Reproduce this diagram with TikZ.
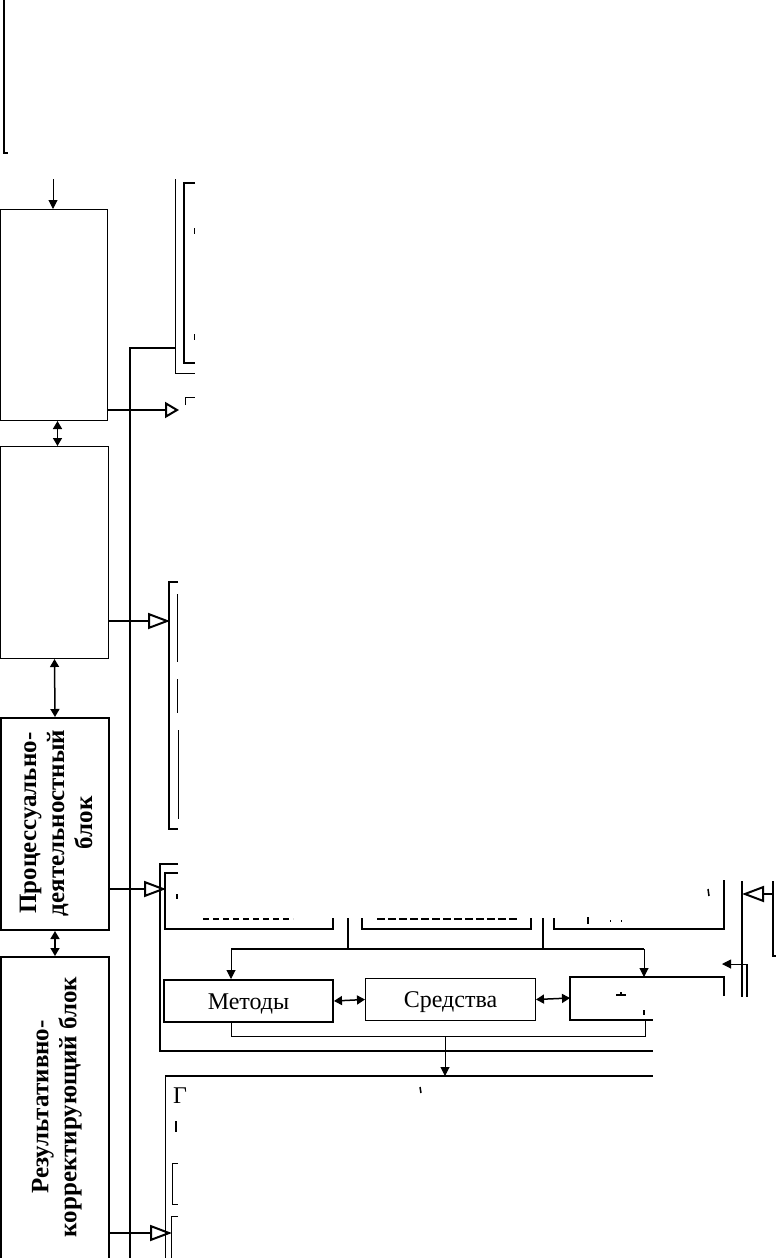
\documentclass[tikz,border=0pt]{standalone}
\usepackage{fontspec}
\setmainfont{Liberation Serif}
\usetikzlibrary{arrows.meta}
\tikzset{
  thinbox/.style={draw, line width=1pt, inner sep=0pt, anchor=north west},
  thickbox/.style={draw, line width=2pt, inner sep=0pt, anchor=north west},
  blocktext/.style={rotate=90, align=center, font=\fontsize{25}{28}\selectfont\bfseries},
  boxtext/.style={font=\fontsize{24}{28}\selectfont, text height=19pt, text depth=3pt},
  dbl/.style={{Triangle[length=8pt,width=9pt]}-{Triangle[length=8pt,width=9pt]}, line width=1.5pt},
  down/.style={-{Triangle[length=9pt,width=9pt]}, line width=1pt},
  openarr/.style={-{Triangle[open,length=22pt,width=16pt]}, line width=2pt},
  openarrs/.style={-{Triangle[open,length=14pt,width=16pt]}, line width=2pt},
  bus/.style={line width=2pt},
  frag/.style={line width=1.5pt},
}
\begin{document}
\begin{tikzpicture}[x=1pt,y=-1pt]
\useasboundingbox (0,0) rectangle (777,1258);

% top-left partial frame
\draw[bus] (4,0) -- (4,153) -- (8,153);

% left column of blocks
\node[thinbox, minimum width=107pt, minimum height=211pt] (b1) at (0,209) {};
\node[thinbox, minimum width=108pt, minimum height=212pt] (b2) at (0,446) {};
\node[thickbox, minimum width=108pt, minimum height=212pt] (b3) at (0,717) {};
\node[thickbox, minimum width=108pt, minimum height=310pt] (b4) at (0,956) {};
\node[blocktext] (t3) at (56,823) {Процессуально-\\деятельностный\\блок};
\node[blocktext] (t4) at (57,1107) {Результативно-\\корректирующий блок};

\coordinate (t0) at (53,179);
\draw[down] (t0) -- (t0 |- b1.north);
\draw[dbl] ([xshift=3.5pt]b1.south) -- ([xshift=3.5pt]b1.south |- b2.north);
\draw[dbl] (b2.south) -- (b3.north);
\draw[dbl] (b3.south) -- (b4.north);

% vertical bus
\coordinate (bus0) at (130,348);
\coordinate (bus1) at (130,1270);
\coordinate (busR) at (175,348);
\draw[bus] (bus1) -- (bus0) -- (busR);

% group 1 (top right)
\draw[line width=1pt] (175,179) -- (175,373) -- (195,373);
\draw[line width=1.5pt] (195,183) -- (184,183) -- (184,363) -- (195,363);
\draw[line width=1pt] (194,228) -- (194,234) (194,334) -- (194,340);

% arrow from block 1
\coordinate (a1s) at (107,410);
\coordinate (a1e) at (179,410);
\draw[openarrs] (a1s) -- (a1e);
\draw[line width=1pt] (185,405) -- (185,397) -- (195,397);

% arrow from block 2 and group 2
\coordinate (a2s) at (108,621);
\coordinate (a2e) at (170,621);
\draw[openarr] (a2s) -- (a2e);
\draw[bus] (178,582) -- (169,582) -- (169,829) -- (178,829);
\draw[line width=1pt] (178,594) -- (177,594) -- (177,661) -- (178,661);
\draw[line width=1pt] (178,679) -- (177,679) -- (177,712) -- (178,712);
\draw[line width=1pt] (178,730) -- (178,819);

% arrow from block 3 and group 3
\coordinate (a3s) at (108,889);
\coordinate (a3e) at (166,889);
\draw[openarr] (a3s) -- (a3e);
\draw[bus] (178,864) -- (160,864) -- (160,1051) -- (653,1051);
\draw[line width=1.5pt] (178,873) -- (165,873) -- (165,929) -- (333,929) -- (333,918);
\draw[line width=1.5pt] (362,918) -- (362,929) -- (531,929) -- (531,918);
\draw[line width=1.5pt] (554,918) -- (554,929) -- (724,929) -- (724,880);
\draw[frag, dash pattern=on 6pt off 4pt] (203,919) -- (293,919);
\draw[frag, dash pattern=on 8pt off 3pt] (377,919) -- (517,919);
\draw[frag] (588,917) -- (588,924) (610,921) -- (611,921) (621,921) -- (622,921);
\draw[frag] (177,894) -- (177,899);
\draw[frag] (708,889) -- (709,896);

\coordinate (j1) at (348,918);
\coordinate (j2) at (543,918);
\coordinate (hl) at (231,949);
\coordinate (hr) at (644,949);
\draw[line width=1.5pt] (j1) -- (j1 |- hl);
\draw[line width=1.5pt] (j2) -- (j2 |- hl);
\draw[line width=1.5pt] (hl) -- (hr);

% row of method boxes
\node[thickbox, minimum width=169pt, minimum height=42pt, boxtext] (met) at (163,979) {Методы};
\node[thinbox, minimum width=170pt, minimum height=42pt, boxtext] (sred) at (365,978) {Средства};
\draw[line width=1.5pt] (724,996) -- (724,977) -- (570,977) -- (570,1020) -- (653,1020);
\coordinate (fL) at (570,998);
\coordinate (fT) at (644,977);
\draw[frag] (616,995) -- (626,995) (621,992) -- (621,996) (644,1010) -- (644,1015);

\draw[down] (hl) -- (hl |- met.north);
\draw[down] (hr) -- (fT);
\draw[dbl] (met.east) -- (sred.west);
\draw[dbl] (sred.east) -- (fL);

\coordinate (u1) at (231,1036);
\coordinate (u2) at (645,1036);
\coordinate (u3) at (645,1020);
\coordinate (um) at (445,1036);
\draw[line width=1pt] (u1 |- met.south) -- (u1) -- (u2) -- (u3);

% bottom box
\coordinate (bbT) at (445,1076);
\draw[down] (um) -- (bbT);
\draw[line width=1pt] (165,1270) -- (165,1076);
\draw[bus] (165,1076) -- (653,1076);
\node[anchor=base west, font=\fontsize{24}{28}\selectfont, inner sep=0pt] (g) at (173,1103) {Г};
\draw[frag] (420,1087) -- (421,1093);
\draw[frag] (176,1121) -- (176,1132);
\draw[line width=1pt] (178,1163) -- (172,1163) -- (172,1204) -- (178,1204);
\draw[line width=1pt] (178,1216) -- (171,1216) -- (171,1270);

% arrow from block 4
\coordinate (a4s) at (108,1233);
\coordinate (a4e) at (172,1233);
\draw[openarr] (a4s) -- (a4e);

% right edge fragments
\draw[bus] (742,881) -- (742,997);
\draw[bus] (747,964) -- (747,997);
\coordinate (r1) at (747,964);
\coordinate (r2) at (722,964);
\draw[down] (r1) -- (r2);
\coordinate (r3) at (773,894);
\coordinate (r4) at (742,894);
\draw[openarr] (r3) -- (r4);
\draw[line width=1.5pt] (773,881) -- (773,956) -- (776,956);
\end{tikzpicture}
\end{document}
